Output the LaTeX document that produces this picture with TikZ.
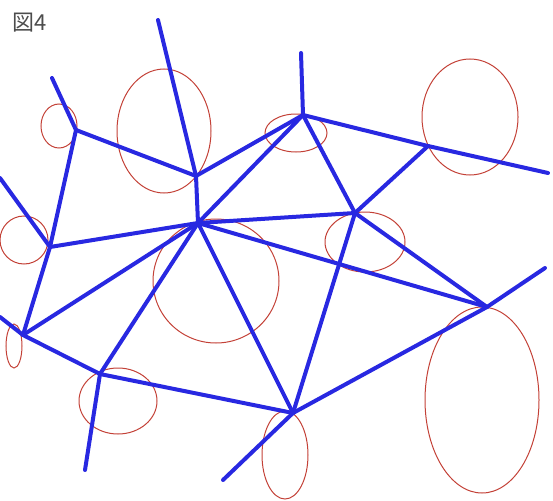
\documentclass[tikz,border=0pt]{standalone}
\usepackage{fontspec}
\newfontfamily\cjk{Noto Sans CJK JP}
\definecolor{edgeblue}{RGB}{40,40,225}
\definecolor{ringred}{RGB}{195,65,55}
\begin{document}
\begin{tikzpicture}[x=1pt,y=-1pt,
  edge/.style={draw=edgeblue,line width=4pt,line cap=round,line join=round},
  ring/.style={draw=ringred,line width=1pt}]
\useasboundingbox (0,0) rectangle (553,500);
% rings
\draw[ring] (59,126) ellipse [x radius=18,y radius=22];
\draw[ring] (164,131) ellipse [x radius=47,y radius=62];
\draw[ring] (24,240) ellipse [x radius=24,y radius=24];
\draw[ring] (296,133) ellipse [x radius=31,y radius=19];
\draw[ring] (470,117) ellipse [x radius=48,y radius=58];
\draw[ring] (365,242) ellipse [x radius=40,y radius=30];
\draw[ring] (216,281) ellipse [x radius=63,y radius=62];
\draw[ring] (482,400) ellipse [x radius=57,y radius=93];
\draw[ring] (285,455) ellipse [x radius=23,y radius=44];
\draw[ring] (118,401) ellipse [x radius=39,y radius=33];
\draw[ring] (14,346) ellipse [x radius=8,y radius=22];
% vertices
\coordinate (A) at (76,130);
\coordinate (B) at (196,176);
\coordinate (C) at (198,223);
\coordinate (D) at (50,247);
\coordinate (E) at (303,115);
\coordinate (F) at (428,146);
\coordinate (G) at (355,213);
\coordinate (H) at (487,307);
\coordinate (I) at (293,413);
\coordinate (J) at (100,374);
\coordinate (K) at (23,335);
% free ends
\coordinate (a1) at (52,78);
\coordinate (b1) at (158,20);
\coordinate (d1) at (0,178);
\coordinate (k1) at (0,317);
\coordinate (j1) at (85,470);
\coordinate (i1) at (223,480);
\coordinate (h1) at (545,268);
\coordinate (f1) at (548,173);
\coordinate (e1) at (301,53);
% edges
\draw[edge] (a1) -- (A);
\draw[edge] (A) -- (B);
\draw[edge] (A) -- (D);
\draw[edge] (b1) -- (B);
\draw[edge] (B) -- (C);
\draw[edge] (B) -- (E);
\draw[edge] (C) -- (E);
\draw[edge] (C) -- (D);
\draw[edge] (C) -- (K);
\draw[edge] (C) -- (J);
\draw[edge] (C) -- (I);
\draw[edge] (C) -- (G);
\draw[edge] (C) -- (H);
\draw[edge] (D) -- (K);
\draw[edge] (d1) -- (D);
\draw[edge] (k1) -- (K);
\draw[edge] (K) -- (J);
\draw[edge] (J) -- (I);
\draw[edge] (J) -- (j1);
\draw[edge] (I) -- (G);
\draw[edge] (I) -- (H);
\draw[edge] (I) -- (i1);
\draw[edge] (H) -- (h1);
\draw[edge] (G) -- (H);
\draw[edge] (G) -- (F);
\draw[edge] (E) -- (F);
\draw[edge] (F) -- (f1);
\draw[edge] (E) -- (G);
\draw[edge] (e1) -- (E);
% label
\node[anchor=west,inner sep=0pt,text=black!70,font=\cjk\fontsize{22}{22}\selectfont] (lbl) at (12,23) {図4};
\end{tikzpicture}
\end{document}
